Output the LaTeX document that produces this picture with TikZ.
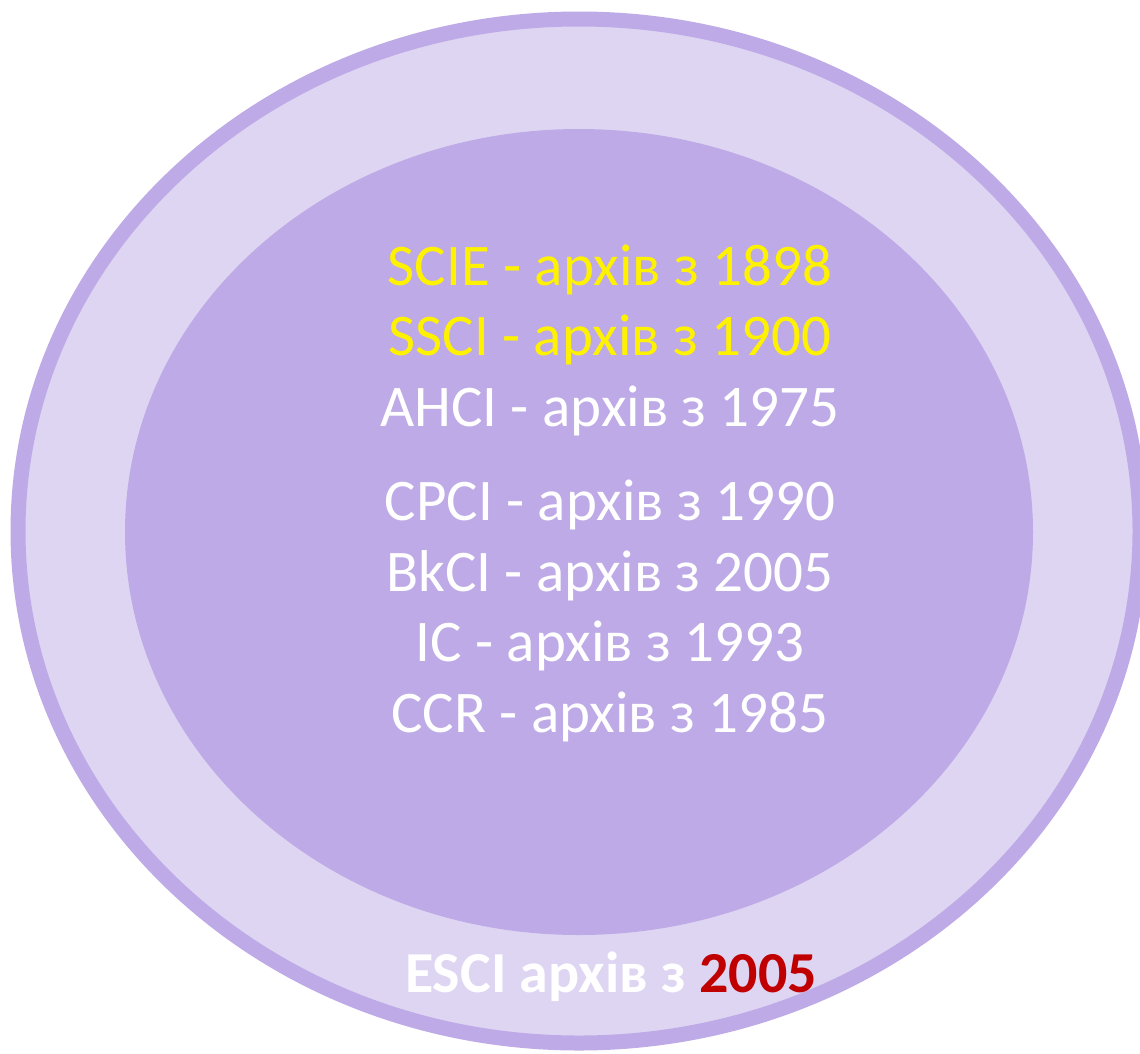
\documentclass[tikz,border=0pt]{standalone}
\usepackage{fontspec}
\setmainfont{Carlito}
\usepackage{tikz}

\definecolor{lilac}{HTML}{BEAAE6}
\definecolor{palelilac}{HTML}{DED5F3}
\definecolor{darkred}{HTML}{C00000}

\tikzset{
    index/.style={anchor=base, text=white, inner sep=0pt, font=\fontsize{59}{70}\selectfont},
    oldindex/.style={index, text=yellow},
}

\begin{document}
\begin{tikzpicture}[x=1pt,y=-1pt]
        \useasboundingbox (0,0) rectangle (1140,1053);
        \draw[line width=15pt, draw=lilac, fill=palelilac] (579,531) ellipse [x radius=561, y radius=512];
        \fill[lilac] (579,532) ellipse [x radius=454, y radius=403];
        \node[oldindex] (scie) at (610,285) {SCIE - архів з 1898};
        \node[oldindex] (ssci) at (610,355) {SSCI - архів з 1900};
        \node[index] (ahci) at (610,426) {AHCI - архів з 1975};
        \node[index] (cpci) at (610,520) {CPCI - архів з 1990};
        \node[index] (bkci) at (610,591) {BkCI - архів з 2005};
        \node[index] (ic) at (610,661) {IC - архів з 1993};
        \node[index] (ccr) at (610,732) {CCR - архів з 1985};
        \node[index, font=\fontsize{58}{68}\selectfont\bfseries] (esci) at (611,992) {ESCI архів з \textcolor{darkred}{2005}};
    \end{tikzpicture}
\end{document}
